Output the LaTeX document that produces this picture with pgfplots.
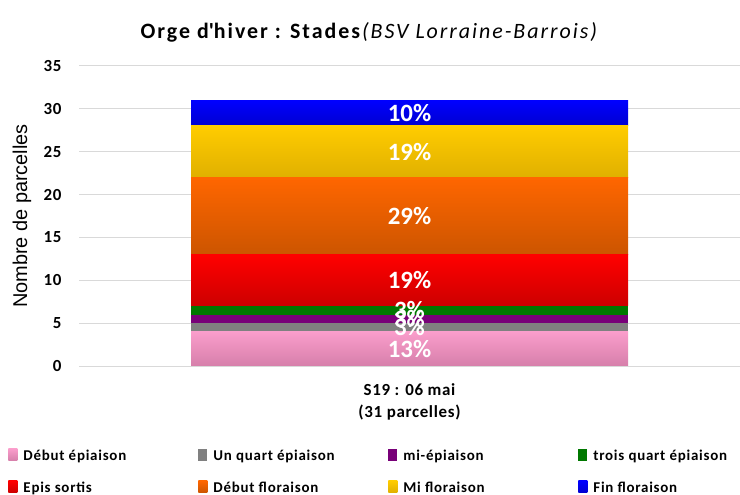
\documentclass[border=0pt]{standalone}
\usepackage{fontspec}
\setmainfont{Carlito}
\newfontfamily\arialf{Liberation Sans}
\usepackage{pgfplots}
\pgfplotsset{compat=1.18}
\definecolor{pinkT}{HTML}{FA9DCB}
\definecolor{pinkB}{HTML}{D67FAA}
\definecolor{grayC}{HTML}{808080}
\definecolor{purpleC}{HTML}{780078}
\definecolor{greenC}{HTML}{007800}
\definecolor{redT}{HTML}{FF0000}
\definecolor{redB}{HTML}{CC0000}
\definecolor{orT}{HTML}{FF6600}
\definecolor{orB}{HTML}{CC5500}
\definecolor{yeT}{HTML}{FFCC00}
\definecolor{yeB}{HTML}{E0B000}
\definecolor{blT}{HTML}{0000FF}
\definecolor{blB}{HTML}{0000D0}
\definecolor{gridC}{HTML}{D9D9D9}
\newcommand{\legbox}[1]{\makebox[173bp][l]{#1}}
\begin{document}
\begin{tikzpicture}
\path[use as bounding box] (0bp,0bp) rectangle (740bp,495bp);
\begin{axis}[
  at={(79bp,129bp)}, anchor=south west,
  scale only axis, width=661bp, height=300bp,
  ybar stacked, bar width=437bp,
  xmin=-1, xmax=1, ymin=0, ymax=35,
  ytick={0,5,...,35},
  xtick={0}, xticklabels={{S19 : 06 mai\\(31 parcelles)}},
  xticklabel style={align=center, font=\bfseries\fontsize{17}{22}\selectfont\addfontfeature{LetterSpace=4}, yshift=-14bp},
  yticklabel style={font=\bfseries\fontsize{17}{17}\selectfont\addfontfeature{LetterSpace=4}, xshift=-14bp},
  /pgf/number format/assume math mode=true,
  axis line style={draw=none},
  major tick length=0pt,
  ymajorgrids, grid style={draw=gridC, line width=1pt},
  ylabel={Nombre de parcelles},
  every axis y label/.style={at={(axis description cs:-0.0862,0.5)}, rotate=90, anchor=center, font=\arialf\fontsize{20}{20}\selectfont},
  title={\textbf{Orge d\textquotesingle hiver : Stades}\textit{(BSV Lorraine-Barrois)}},
  title style={at={(axis description cs:0.44,1.092)}, anchor=center, font=\fontsize{22}{22}\selectfont\addfontfeature{LetterSpace=9}},
  nodes near coords,
  point meta=explicit symbolic,
  every node near coord/.append style={font=\bfseries\fontsize{25}{25}\selectfont, text=white, anchor=center},
  legend columns=4,
  legend style={at={(axis description cs:-0.107,-0.272)}, anchor=north west, draw=none, fill=none,
    font=\bfseries\fontsize{15}{15}\selectfont\addfontfeature{LetterSpace=5}, row sep=16bp, inner sep=0pt,
    /tikz/every odd column/.append style={column sep=4bp}},
  legend image code/.code={\path[#1] (0bp,-5bp) rectangle (9bp,7bp);},
]
\addplot[draw=none, top color=pinkT, bottom color=pinkB] coordinates {(0,4) [13\%]};
\addplot[draw=none, fill=grayC] coordinates {(0,1) [3\%]};
\addplot[draw=none, fill=purpleC] coordinates {(0,1) [3\%]};
\addplot[draw=none, fill=greenC] coordinates {(0,1) [3\%]};
\addplot[draw=none, top color=redT, bottom color=redB] coordinates {(0,6) [19\%]};
\addplot[draw=none, top color=orT, bottom color=orB] coordinates {(0,9) [29\%]};
\addplot[draw=none, top color=yeT, bottom color=yeB] coordinates {(0,6) [19\%]};
\addplot[draw=none, top color=blT, bottom color=blB] coordinates {(0,3) [10\%]};
\legend{\legbox{Début épiaison},\legbox{Un quart épiaison},\legbox{mi-épiaison},\legbox{trois quart épiaison},
\legbox{Epis sortis},\legbox{Début floraison},\legbox{Mi floraison},\legbox{Fin floraison}}
\end{axis}
\end{tikzpicture}
\end{document}
